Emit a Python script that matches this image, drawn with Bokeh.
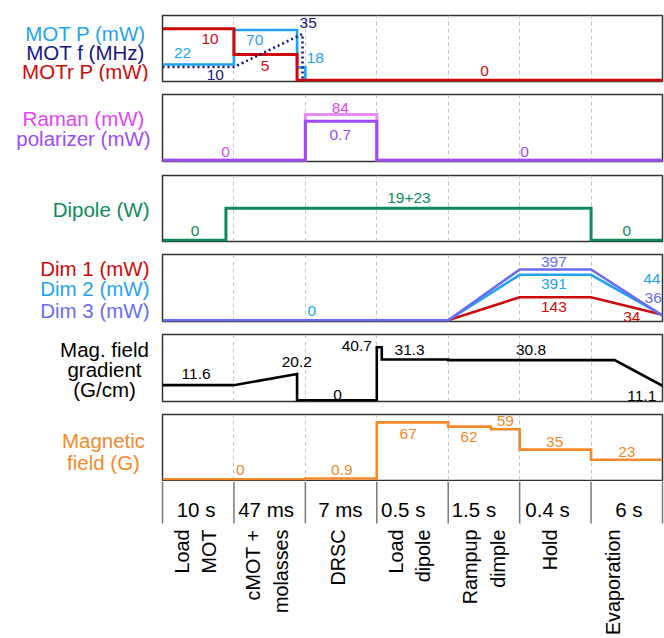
import math
from bokeh.plotting import figure
from bokeh.models import Range1d, Grid, FixedTicker
from bokeh.layouts import column, row
from bokeh.embed import file_html
from bokeh.resources import INLINE
from bokeh.core.properties import value

FONT = "Liberation Sans"

# ---- sequence steps (one x unit per step) ----
steps = ["Load\nMOT", "cMOT +\nmolasses", "DRSC", "Load\ndipole",
         "Rampup\ndimple", "Hold", "Evaporation"]
durations = ["10 s", "47 ms", "7 ms", "0.5 s", "1.5 s", "0.4 s", "6 s"]

t_cmot = 1.884   # end of the compressed MOT inside the cMOT + molasses step
t_freq = 1.96    # MOT detuning switched off
t_dip = 0.888    # dipole trap switched on during MOT loading
t_spike = 3.07   # end of the gradient spike at dipole loading
t_ramp = 4.6     # field step inside the dimple ramp
t_evap = 6.33    # start of the gradient ramp-down

# ---- MOT beams ----
motp_t = [0, 1, 1, t_cmot, t_cmot, 2, 2, 7]
motp = [22, 22, 70, 70, 18, 18, 0, 0]
motf_t = [0, 1, t_freq, t_freq]
motf = [10, 10, 35, 0]
motr_t = [0, 1, 1, t_cmot, t_cmot, 7]
motr = [10, 10, 5, 5, 0, 0]

# ---- Raman / polarizer ----
raman_t = [0, 2, 2, 3, 3, 7]
raman = [0, 0, 84, 84, 0, 0]
polar = [0, 0, 0.7, 0.7, 0, 0]

# ---- dipole trap (19 W + 23 W) ----
dipole_t = [0, t_dip, t_dip, 6, 6, 7]
dipole = [0, 0, 19 + 23, 19 + 23, 0, 0]

# ---- dimple beams ----
dim_t = [0, 4, 5, 6, 7]
dim1 = [0, 0, 143, 143, 34]
dim2 = [0, 0, 391, 391, 44]
dim3 = [0, 0, 397, 397, 36]

# ---- magnetic field gradient ----
grad_t = [0, 1, t_cmot, t_cmot, 3, 3, t_spike, t_spike, 4, 4, t_evap, 7]
grad = [11.6, 11.6, 20.2, 0, 0, 40.7, 40.7, 31.3, 31.3, 30.8, 30.8, 11.1]

# ---- bias magnetic field ----
field_t = [0, 2, 2, 3, 3, 4, 4, t_ramp, t_ramp, 5, 5, 6, 6, 7]
field = [0, 0, 0.9, 0.9, 67, 67, 62, 62, 59, 59, 35, 35, 23, 23]

# ---- colours ----
BLUE = "#1fa3ef"
NAVY = "#17177d"
RED = "#cc0a0a"
MAGENTA = "#df46f2"
RAMAN_LINE = "#e68cf3"
PURPLE = "#9b4cf6"
GREEN = "#0e8a5c"
PERI = "#6a6cf0"
ORANGE = "#f4892a"
BLACK = "#000000"

UNIT_PX = 500 / 7
LABEL_W = 160
PANEL_W = 504


def yrange(vmax, top_frac, h):
    """Linear scale putting 0 just above the frame bottom and vmax at top_frac."""
    k = (top_frac * h - 1.2) / vmax
    start = -1.2 / k
    return Range1d(start, start + h / k)


def panel(height, top, bottom):
    p = figure(width=PANEL_W, height=height, x_range=Range1d(0, 7),
               y_range=Range1d(0, 1), title=None, toolbar_location=None,
               output_backend="svg", x_axis_type=None, y_axis_type=None,
               min_border_left=2, min_border_right=2,
               min_border_top=top, min_border_bottom=bottom,
               outline_line_color="#333333", outline_line_width=1.5,
               background_fill_color="white", border_fill_color="white")
    p.add_layout(Grid(dimension=0, ticker=FixedTicker(ticks=[1, 2, 3, 4, 5, 6]),
                      grid_line_color="#c4c4c4", grid_line_dash="4 3",
                      grid_line_width=1))
    return p


def trace(p, name, t, v, color, width=2.6, dash="solid"):
    p.line(t, v, line_color=color, line_width=width, line_dash=dash,
           line_join="miter", y_range_name=name)


def values(p, name, texts, xs, vals, dy, color, size="15.5px"):
    p.text(x=xs, y=vals, text=texts, y_offset=[-d for d in dy],
           text_color=color, text_font=value(FONT), text_font_size=size,
           text_align="center", text_baseline="middle", y_range_name=name)


def side(height, items, align):
    f = figure(width=LABEL_W, height=height, x_range=Range1d(0, LABEL_W),
               y_range=Range1d(height, 0), title=None, toolbar_location=None,
               output_backend="svg", x_axis_type=None, y_axis_type=None,
               min_border=0, min_border_left=0, min_border_right=0,
               min_border_top=0, min_border_bottom=0,
               outline_line_color=None, background_fill_color="white",
               border_fill_color="white")
    for text, x, y, color in items:
        f.text(x=[x], y=[y], text=[text], text_color=color,
               text_font=value(FONT), text_font_size="20.5px",
               text_align=align, text_baseline="middle")
    return f


# ---------- panel 1: MOT ----------
H1 = 66
p1 = panel(87, 15, 6)
p1.extra_y_ranges = {"motp": yrange(max(motp), 0.78, H1),
                     "motf": yrange(max(motf), 0.72, H1),
                     "motr": yrange(max(motr), 0.80, H1)}
trace(p1, "motp", motp_t, motp, BLUE)
trace(p1, "motr", motr_t, motr, RED, width=3)
trace(p1, "motf", motf_t, motf, NAVY, width=2.6, dash="2 3")
values(p1, "motp", ["22", "70", "18"], [0.28, 1.29, 2.14], [22, 70, 18],
       [11, -10.1, 9.5], BLUE)
values(p1, "motr", ["10", "5", "0"], [0.665, 1.435, 4.51], [10, 5, 0],
       [-10.5, -11.4, 9.5], RED)
values(p1, "motf", ["10", "35"], [0.74, 2.04], [10, 35], [-8.3, 10.5], NAVY)
s1 = side(87, [("MOT P (mW)", 85, 23.7, BLUE),
               ("MOT f (MHz)", 85, 49.2, NAVY),
               ("MOTr P (mW)", 85, 73.3, RED)], "center")

# ---------- panel 2: Raman / polarizer ----------
H2 = 67
p2 = panel(81, 7, 7)
p2.extra_y_ranges = {"raman": yrange(max(raman), 0.70, H2),
                     "polar": yrange(max(polar), 0.60, H2)}
trace(p2, "raman", raman_t, raman, RAMAN_LINE, width=3)
trace(p2, "polar", raman_t, polar, PURPLE, width=3)
values(p2, "raman", ["84", "0"], [2.49, 0.882], [84, 0], [6.5, 8.3], MAGENTA)
values(p2, "polar", ["0.7", "0"], [2.49, 5.07], [0.7, 0], [-13.7, 8.3], PURPLE)
s2 = side(81, [("Raman (mW)", 83, 28.7, MAGENTA),
               ("polarizer (mW)", 83, 53.5, PURPLE)], "center")

# ---------- panel 3: dipole ----------
H3 = 66
p3 = panel(79, 7, 6)
p3.extra_y_ranges = {"dip": yrange(max(dipole), 0.505, H3)}
trace(p3, "dip", dipole_t, dipole, GREEN, width=3)
values(p3, "dip", ["0", "19+23", "0"], [0.455, 3.45, 6.5], [0, 42, 0],
       [9, 10, 9], GREEN)
s3 = side(79, [("Dipole (W)", 149, 40.3, GREEN)], "right")

# ---------- panel 4: dimple beams ----------
H4 = 67
p4 = panel(80, 7, 6)
p4.extra_y_ranges = {"d1": yrange(max(dim1), 0.363, H4),
                     "d2": yrange(max(dim2), 0.697, H4),
                     "d3": yrange(max(dim3), 0.776, H4)}
trace(p4, "d1", dim_t, dim1, RED, width=2.6)
trace(p4, "d2", dim_t, dim2, BLUE, width=2.6)
trace(p4, "d3", dim_t, dim3, PERI, width=2.6)
values(p4, "d3", ["397", "36"], [5.48, 6.87], [397, 36], [7.3, 18], PERI)
values(p4, "d2", ["391", "44", "0"], [5.48, 6.85, 2.09], [391, 44, 0],
       [-9.4, 35.8, 9.7], BLUE)
values(p4, "d1", ["143", "34"], [5.48, 6.57], [143, 34], [-9.6, -2.2], RED)
s4 = side(80, [("Dim 1 (mW)", 149, 17.2, RED),
               ("Dim 2 (mW)", 149, 40.5, BLUE),
               ("Dim 3 (mW)", 149, 66.3, PERI)], "right")

# ---------- panel 5: field gradient ----------
H5 = 67
p5 = panel(80, 7, 6)
p5.extra_y_ranges = {"g": yrange(max(grad), 0.81, H5)}
trace(p5, "g", grad_t, grad, BLACK, width=2.6)
grad_lbl = [11.6, 20.2, 40.7, 0, 31.3, 30.8, 11.1]
values(p5, "g", [f"{v:g}" for v in grad_lbl],
       [0.47, 1.88, 2.72, 2.45, 3.46, 5.16, 6.71], grad_lbl,
       [10.8, 12.2, 0.9, 5.8, 9.3, 10.3, -10], BLACK)
s5 = side(80, [("Mag. field", 104, 18, BLACK),
               ("gradient", 104, 42.2, BLACK),
               ("(G/cm)", 104, 65.5, BLACK)], "center")

# ---------- panel 6: bias field ----------
H6 = 66
p6 = panel(74, 7, 1)
p6.extra_y_ranges = {"b": yrange(max(field), 0.88, H6)}
trace(p6, "b", field_t, field, ORANGE, width=2.6)
field_lbl = [0, 0.9, 67, 62, 59, 35, 23]
values(p6, "b", [f"{v:g}" for v in field_lbl],
       [1.09, 2.51, 3.44, 4.29, 4.80, 5.49, 6.5], field_lbl,
       [9, 9, -11.7, -10.6, 8.3, 8, 8], ORANGE)
s6 = side(74, [("Magnetic", 103, 29.7, ORANGE),
               ("field (G)", 103, 53.8, ORANGE)], "center")

# ---------- step durations and names ----------
bottom = figure(width=664, height=157,
                x_range=Range1d(-162 / UNIT_PX, 7 + 2 / UNIT_PX),
                y_range=Range1d(157, 0), title=None, toolbar_location=None,
                output_backend="svg", x_axis_type=None, y_axis_type=None,
                min_border=0, min_border_left=0, min_border_right=0,
                min_border_top=0, min_border_bottom=0,
                outline_line_color=None, background_fill_color="white",
                border_fill_color="white")
bounds = list(range(len(steps) + 1))
bottom.segment(x0=bounds, y0=[0] * len(bounds), x1=bounds, y1=[42] * len(bounds),
               line_color="#7a7a7a", line_width=1.5)
dur_x = [0.47, 1.45, 2.49, 3.37, 4.36, 5.39, 6.53]
bottom.text(x=dur_x, y=[28] * len(durations), text=durations,
            text_font=value(FONT), text_font_size="20.5px", text_color="black",
            text_align="center", text_baseline="middle")

# rotated step names, one glyph per line so every line ends at the same top
step_x = [0.46, 1.46, 2.46, 3.46, 4.5, 5.43, 6.3]
LINE_GAP = 27.5
lx, ltxt, loff = [], [], []
for cx, name in zip(step_x, steps):
    parts = name.split("\n")
    n = len(parts)
    for i, part in enumerate(parts):
        lx.append(cx)
        ltxt.append(part)
        loff.append((i - (n - 1) / 2) * LINE_GAP)
bottom.text(x=lx, y=[48] * len(lx), text=ltxt, x_offset=loff,
            angle=math.pi / 2, text_font=value(FONT), text_font_size="19.8px",
            text_color="black", text_align="right", text_baseline="middle")

layout = column(row(s1, p1), row(s2, p2), row(s3, p3), row(s4, p4),
                row(s5, p5), row(s6, p6), bottom)

open("out.html", "w").write(file_html(layout, INLINE))
